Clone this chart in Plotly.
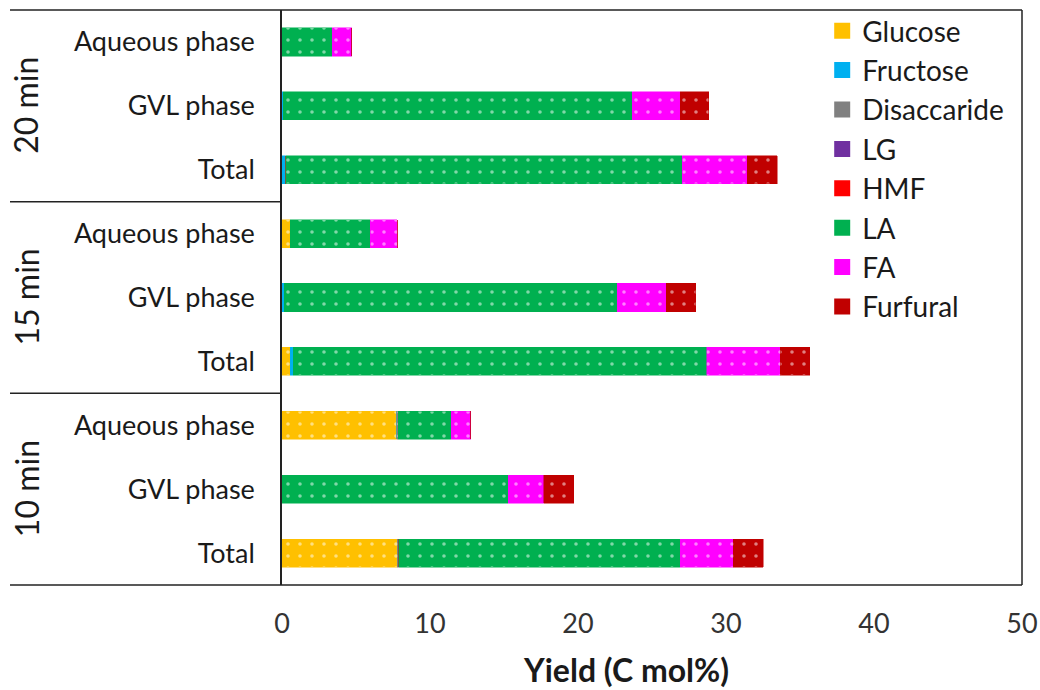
import plotly.graph_objects as go

rows = ["Total", "GVL phase", "Aqueous phase",
        "Total", "GVL phase", "Aqueous phase",
        "Total", "GVL phase", "Aqueous phase"]
groups = ["10 min", "15 min", "20 min"]

series = ["Glucose", "Fructose", "Disaccaride", "LG", "HMF", "LA", "FA", "Furfural"]
colors = ["#FFC000", "#00B0F0", "#808080", "#7030A0", "#FF0000", "#00B050", "#FF00FF", "#C00000"]

glucose     = [7.8, 0.0, 7.75, 0.55, 0.0, 0.55, 0.0, 0.0, 0.0]
fructose    = [0.0, 0.0, 0.0, 0.2, 0.15, 0.0, 0.25, 0.1, 0.0]
disaccaride = [0.1, 0.0, 0.1, 0.0, 0.0, 0.0, 0.0, 0.0, 0.0]
lg          = [0.0, 0.0, 0.0, 0.0, 0.0, 0.0, 0.0, 0.0, 0.0]
hmf         = [0.0, 0.0, 0.0, 0.0, 0.0, 0.0, 0.0, 0.0, 0.0]
la          = [19.0, 15.3, 3.6, 27.95, 22.5, 5.4, 26.8, 23.55, 3.4]
fa          = [3.6, 2.4, 1.3, 4.95, 3.3, 1.85, 4.4, 3.25, 1.3]
furfural    = [2.0, 2.0, 0.0, 2.0, 2.0, 0.0, 2.0, 1.95, 0.0]

values = [glucose, fructose, disaccaride, lg, hmf, la, fa, furfural]
xticks = [0, 10, 20, 30, 40, 50]

FONT = "Lato"
TXT = "#1a1a1a"
ypos = list(range(len(rows)))

fig = go.Figure()
for name, col, vals in zip(series, colors, values):
    fig.add_trace(go.Bar(
        y=ypos, x=vals, name=name, orientation="h", width=0.44,
        showlegend=False,
        marker=dict(color=col, line=dict(color=col, width=0.5),
                    pattern=dict(shape=".", fgcolor="white", bgcolor=col,
                                 size=12, solidity=0.07, fillmode="overlay")),
    ))
# legend entries (square swatches)
for name, col in zip(series, colors):
    fig.add_trace(go.Scatter(
        x=[None], y=[None], mode="markers", name=name, legendgroup=name,
        marker=dict(symbol="square", size=20, color=col),
    ))

fig.update_layout(
    width=1040, height=690,
    margin=dict(l=282, r=18, t=10, b=105, autoexpand=False),
    barmode="stack",
    plot_bgcolor="white", paper_bgcolor="white",
    font=dict(family=FONT, size=27, color=TXT),
    showlegend=True,
    legend=dict(x=0.73, y=1.007, xanchor="left", yanchor="top",
                traceorder="normal", font=dict(size=28, family=FONT, color=TXT),
                tracegroupgap=0, itemwidth=30, bgcolor="rgba(0,0,0,0)"),
    xaxis=dict(range=[0, 50], tickvals=xticks, ticktext=[str(t) for t in xticks],
               showgrid=False, zeroline=False, showline=False, ticks="",
               tickfont=dict(size=27, family=FONT, color="#333333"),
               ticklabelstandoff=20),
    yaxis=dict(range=[-0.5, 8.5], tickvals=ypos, ticktext=rows,
               showgrid=False, zeroline=False, showline=True, linecolor="#222222", linewidth=1.5,
               ticks="", ticklabelstandoff=20,
               tickfont=dict(size=27, family=FONT, color=TXT)),
)

# x-axis title
fig.add_annotation(xref="paper", yref="paper", x=(626 - 282) / 740, y=(585 - 669) / 575,
                   text="<b>Yield (C mol%)</b>", showarrow=False,
                   font=dict(size=32, family=FONT, color=TXT),
                   xanchor="center", yanchor="middle")

# frame and group separators
x_left = (10 - 282) / 740
line = dict(color="#222222", width=1.5)
fig.add_shape(type="line", xref="paper", yref="paper", x0=x_left, x1=1, y0=1, y1=1, line=line)
fig.add_shape(type="line", xref="paper", yref="paper", x0=x_left, x1=1, y0=0, y1=0, line=line)
fig.add_shape(type="line", xref="paper", yref="paper", x0=1, x1=1, y0=0, y1=1, line=line)
for yb in [2.5, 5.5]:
    fig.add_shape(type="line", xref="paper", yref="y", x0=x_left, x1=0, y0=yb, y1=yb, line=line)

for i, g in enumerate(groups):
    fig.add_annotation(xref="paper", yref="y", x=(26 - 282) / 740, y=3 * i + 1,
                       text=g, showarrow=False, textangle=-90,
                       font=dict(size=32, family=FONT, color=TXT),
                       xanchor="center", yanchor="middle")

fig.write_html("out.html", config={"displayModeBar": False},
               post_script="document.body.style.margin='0';")
